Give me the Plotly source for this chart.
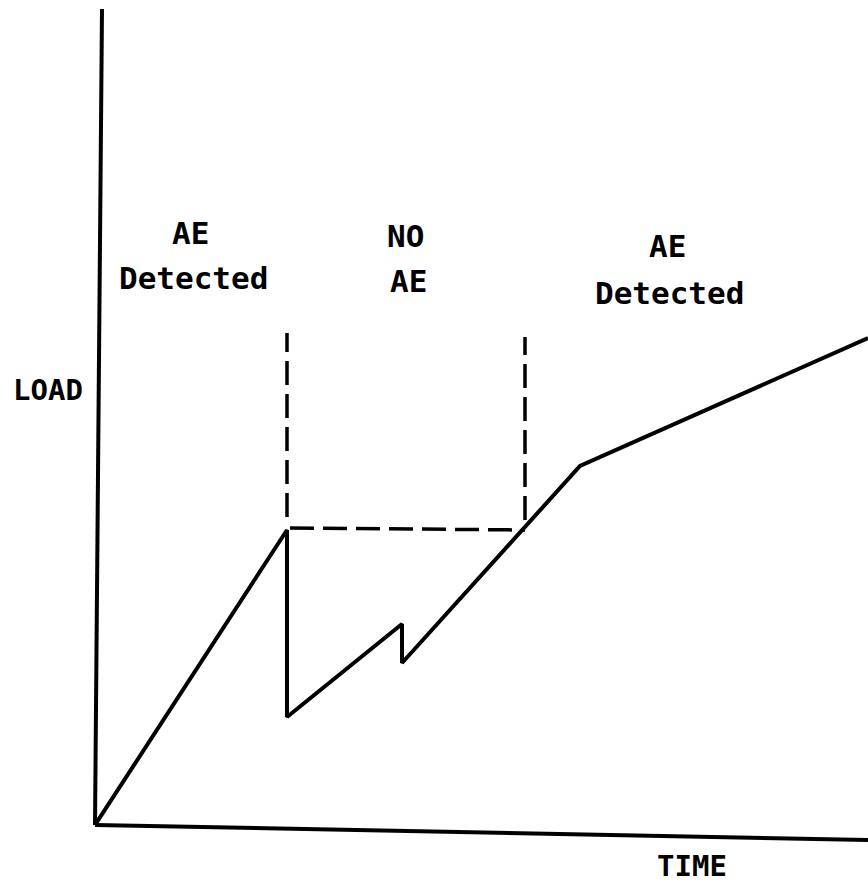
import plotly.graph_objects as go

# Load curve (time, load) in arbitrary units
curve_time = [0, 192, 192, 307, 307, 485, 773]
curve_load = [0, 295, 108, 201, 162, 359, 487]

# Dashed reference lines
hdash_time = [195, 430]
hdash_load = [297, 295]
vdash1_time = [192, 192]
vdash1_load = [308, 492]
vdash2_time = [430, 430]
vdash2_load = [305, 488]

# Region labels (two lines each)
label_top = ["AE", "NO", "AE"]
label_top_time = [95, 310, 572]
label_top_load = [592, 589, 579]
label_bottom = ["Detected", "AE", "Detected"]
label_bottom_time = [98, 313, 574]
label_bottom_load = [547, 544, 532]

# Axis titles
y_title = "LOAD"
x_title = "TIME"

X_MAX = 773
Y_MAX = 816
FONT = "DejaVu Sans Mono"
TXT = dict(family=FONT, size=31, color="black", weight="bold")

fig = go.Figure()
fig.add_trace(go.Scatter(x=curve_time, y=curve_load, mode="lines",
                         line=dict(color="black", width=4), cliponaxis=False))
for xs, ys in [(hdash_time, hdash_load), (vdash1_time, vdash1_load), (vdash2_time, vdash2_load)]:
    fig.add_trace(go.Scatter(x=xs, y=ys, mode="lines",
                             line=dict(color="black", width=3.5, dash="24px,9px")))

for t, x, y in zip(label_top + label_bottom,
                   label_top_time + label_bottom_time,
                   label_top_load + label_bottom_load):
    fig.add_annotation(x=x, y=y, text=t, showarrow=False, font=TXT,
                       xanchor="center", yanchor="middle")

TITLE = dict(family=FONT, size=29, color="black", weight="bold")
fig.add_annotation(xref="paper", yref="paper", x=-47 / X_MAX, y=435 / Y_MAX, text=y_title,
                   showarrow=False, font=TITLE, xanchor="center", yanchor="middle")
fig.add_annotation(xref="paper", yref="paper", x=597 / X_MAX, y=-41 / Y_MAX, text=x_title,
                   showarrow=False, font=TITLE, xanchor="center", yanchor="middle")

# hand-drawn (slightly tilted) axis lines
fig.add_shape(type="line", xref="paper", yref="paper", x0=0, y0=0, x1=1, y1=-15 / Y_MAX,
              line=dict(color="black", width=4))
fig.add_shape(type="line", xref="paper", yref="paper", x0=0, y0=0, x1=7 / X_MAX, y1=1,
              line=dict(color="black", width=4))

fig.update_layout(
    width=868, height=892,
    margin=dict(l=95, r=0, t=9, b=67),
    paper_bgcolor="white", plot_bgcolor="white",
    showlegend=False,
    xaxis=dict(range=[0, X_MAX], showgrid=False, zeroline=False, showticklabels=False,
               ticks="", showline=False),
    yaxis=dict(range=[0, Y_MAX], showgrid=False, zeroline=False, showticklabels=False,
               ticks="", showline=False),
)

fig.write_html("out.html", config={"displayModeBar": False},
               post_script="document.body.style.margin='0px';")
